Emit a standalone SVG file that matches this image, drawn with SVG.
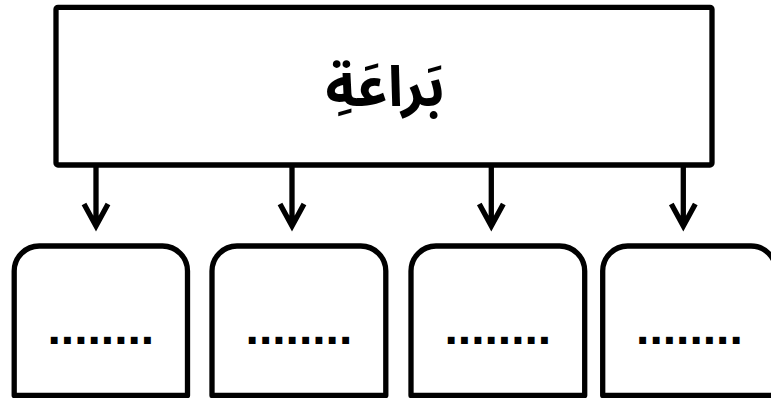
<svg xmlns="http://www.w3.org/2000/svg" width="771" height="398" viewBox="0 0 771 398">
<style>
.box{fill:#fff;stroke:#000;stroke-width:5.3;stroke-linejoin:round}
.conn{fill:none;stroke:#000;stroke-width:5.3;stroke-linejoin:miter;stroke-linecap:butt}
.title{font-family:"Noto Sans Arabic","Noto Naskh Arabic","DejaVu Sans",sans-serif;font-weight:bold;font-size:56px;fill:#000}
.dots{font-family:"Liberation Sans",Arial,sans-serif;font-weight:bold;font-size:48px;fill:#000}
</style>
<rect width="771" height="398" fill="#fff"/>
<g id="root">
<rect class="box" x="56" y="7.3" width="656" height="157.7" rx="2"/>
<text class="title" x="385" y="106" text-anchor="middle" direction="rtl">بَراعَةِ</text>
</g>
<g id="connectors">
<path class="conn" d="M96 167V226M84 204L96 226L108 204"/>
<path class="conn" d="M292 167V226M280 204L292 226L304 204"/>
<path class="conn" d="M491.3 167V226M479.3 204L491.3 226L503.3 204"/>
<path class="conn" d="M683.3 167V226M671.3 204L683.3 226L695.3 204"/>
</g>
<g id="node1">
<path class="box" d="M14.2 395.5V271A25 25 0 0 1 39.2 246H162.5A25 25 0 0 1 187.5 271V395.5Z"/>
<text class="dots" x="100.8" y="344" text-anchor="middle">........</text>
</g>
<g id="node2">
<path class="box" d="M212 395.5V271A25 25 0 0 1 237 246H360.8A25 25 0 0 1 385.8 271V395.5Z"/>
<text class="dots" x="298.9" y="344" text-anchor="middle">........</text>
</g>
<g id="node3">
<path class="box" d="M411 395.5V271A25 25 0 0 1 436 246H559.7A25 25 0 0 1 584.7 271V395.5Z"/>
<text class="dots" x="497.8" y="344" text-anchor="middle">........</text>
</g>
<g id="node4">
<path class="box" d="M602.7 395.5V271A25 25 0 0 1 627.7 246H751A25 25 0 0 1 776 271V395.5Z"/>
<text class="dots" x="689.4" y="344" text-anchor="middle">........</text>
</g>
</svg>
